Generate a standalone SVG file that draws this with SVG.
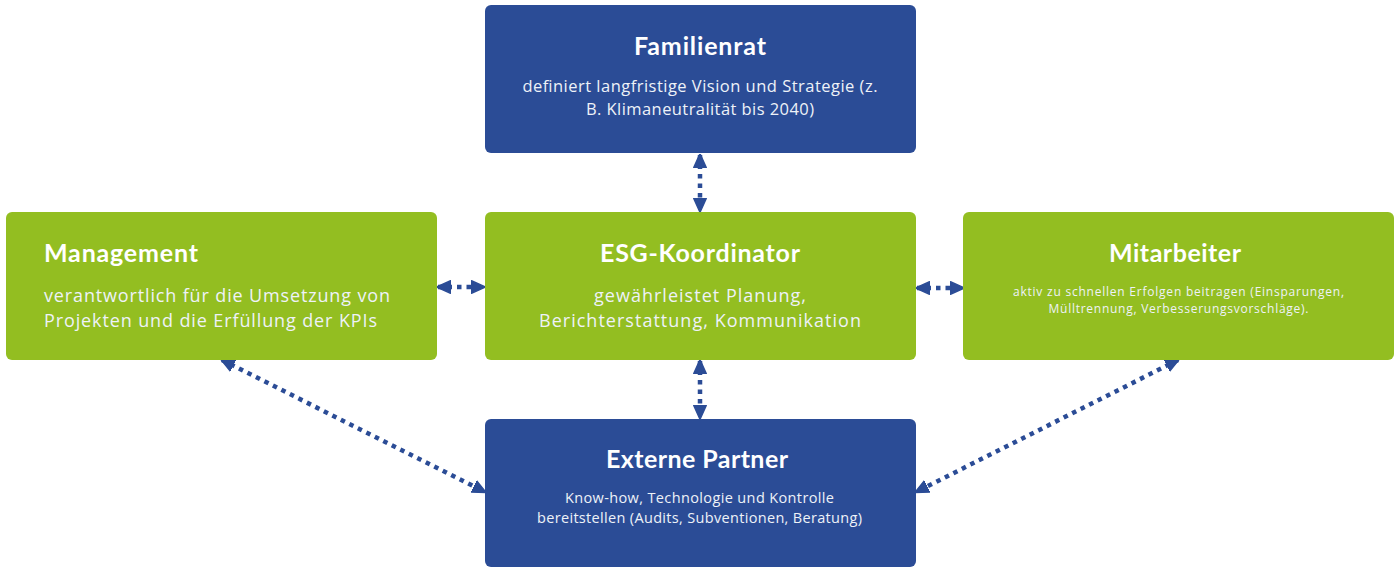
<svg xmlns="http://www.w3.org/2000/svg" width="1398" height="579" viewBox="0 0 1398 579">
<style>
.blue{fill:#2B4C96}
.green{fill:#93BE21}
.title{font-family:Lato,"Open Sans",sans-serif;font-weight:700;font-size:25px;fill:#FFFFFF}
.body{font-family:"Open Sans","Noto Sans",sans-serif;fill:#EEF2F8}
.conn{stroke:#2B4C96;stroke-width:4.5;stroke-dasharray:4.5 5;fill:none}
</style>
<defs>
<marker id="ah" viewBox="0 0 10 10" refX="9" refY="5" markerWidth="3.1" markerHeight="3.1" markerUnits="strokeWidth" orient="auto-start-reverse">
<path d="M0,0.5 L10,5 L0,9.5 Z" fill="#2B4C96" stroke="#2B4C96" stroke-width="1" stroke-linejoin="round"/>
</marker>
</defs>
<rect width="1398" height="579" fill="#FFFFFF"/>
<g id="connectors">
<line class="conn" x1="700" y1="155" x2="700" y2="211" marker-start="url(#ah)" marker-end="url(#ah)"/>
<line class="conn" x1="438" y1="287" x2="484" y2="287" marker-start="url(#ah)" marker-end="url(#ah)"/>
<line class="conn" x1="917" y1="288" x2="963" y2="288" marker-start="url(#ah)" marker-end="url(#ah)"/>
<line class="conn" x1="700" y1="361" x2="700" y2="418" marker-start="url(#ah)" marker-end="url(#ah)"/>
<line class="conn" x1="222" y1="360" x2="485" y2="492" marker-start="url(#ah)" marker-end="url(#ah)"/>
<line class="conn" x1="1178" y1="360" x2="916" y2="492" marker-start="url(#ah)" marker-end="url(#ah)"/>
</g>
<g id="familienrat">
<rect class="blue" x="485" y="5" width="431" height="148" rx="6"/>
<text class="title" x="700" y="55" text-anchor="middle" textLength="132" lengthAdjust="spacing">Familienrat</text>
<text class="body" font-size="16.5" text-anchor="middle"><tspan x="700" y="92" textLength="355" lengthAdjust="spacing">definiert langfristige Vision und Strategie (z.</tspan><tspan x="700" y="115" textLength="228" lengthAdjust="spacing">B. Klimaneutralität bis 2040)</tspan></text>
</g>
<g id="management">
<rect class="green" x="6" y="212" width="431" height="148" rx="6"/>
<text class="title" x="44" y="262" textLength="154" lengthAdjust="spacing">Management</text>
<text class="body" font-size="18"><tspan x="44" y="302" textLength="346" lengthAdjust="spacing">verantwortlich für die Umsetzung von</tspan><tspan x="44" y="327" textLength="333" lengthAdjust="spacing">Projekten und die Erfüllung der KPIs</tspan></text>
</g>
<g id="esg">
<rect class="green" x="485" y="212" width="431" height="148" rx="6"/>
<text class="title" x="700" y="262" text-anchor="middle" textLength="200" lengthAdjust="spacing">ESG-Koordinator</text>
<text class="body" font-size="18" text-anchor="middle"><tspan x="700" y="302" textLength="212" lengthAdjust="spacing">gewährleistet Planung,</tspan><tspan x="700" y="327" textLength="322" lengthAdjust="spacing">Berichterstattung, Kommunikation</tspan></text>
</g>
<g id="mitarbeiter">
<rect class="green" x="963" y="212" width="431" height="148" rx="6"/>
<text class="title" x="1175" y="262" text-anchor="middle" textLength="132" lengthAdjust="spacing">Mitarbeiter</text>
<text class="body" font-size="12" text-anchor="middle"><tspan x="1178.5" y="296" textLength="331" lengthAdjust="spacing">aktiv zu schnellen Erfolgen beitragen (Einsparungen,</tspan><tspan x="1178.5" y="313" textLength="260" lengthAdjust="spacing">Mülltrennung, Verbesserungsvorschläge).</tspan></text>
</g>
<g id="externe">
<rect class="blue" x="485" y="419" width="431" height="148" rx="6"/>
<text class="title" x="697" y="468" text-anchor="middle" textLength="182" lengthAdjust="spacing">Externe Partner</text>
<text class="body" font-size="14.5" text-anchor="middle"><tspan x="699.5" y="503" textLength="269" lengthAdjust="spacing">Know-how, Technologie und Kontrolle</tspan><tspan x="699.5" y="523" textLength="325" lengthAdjust="spacing">bereitstellen (Audits, Subventionen, Beratung)</tspan></text>
</g>
</svg>
